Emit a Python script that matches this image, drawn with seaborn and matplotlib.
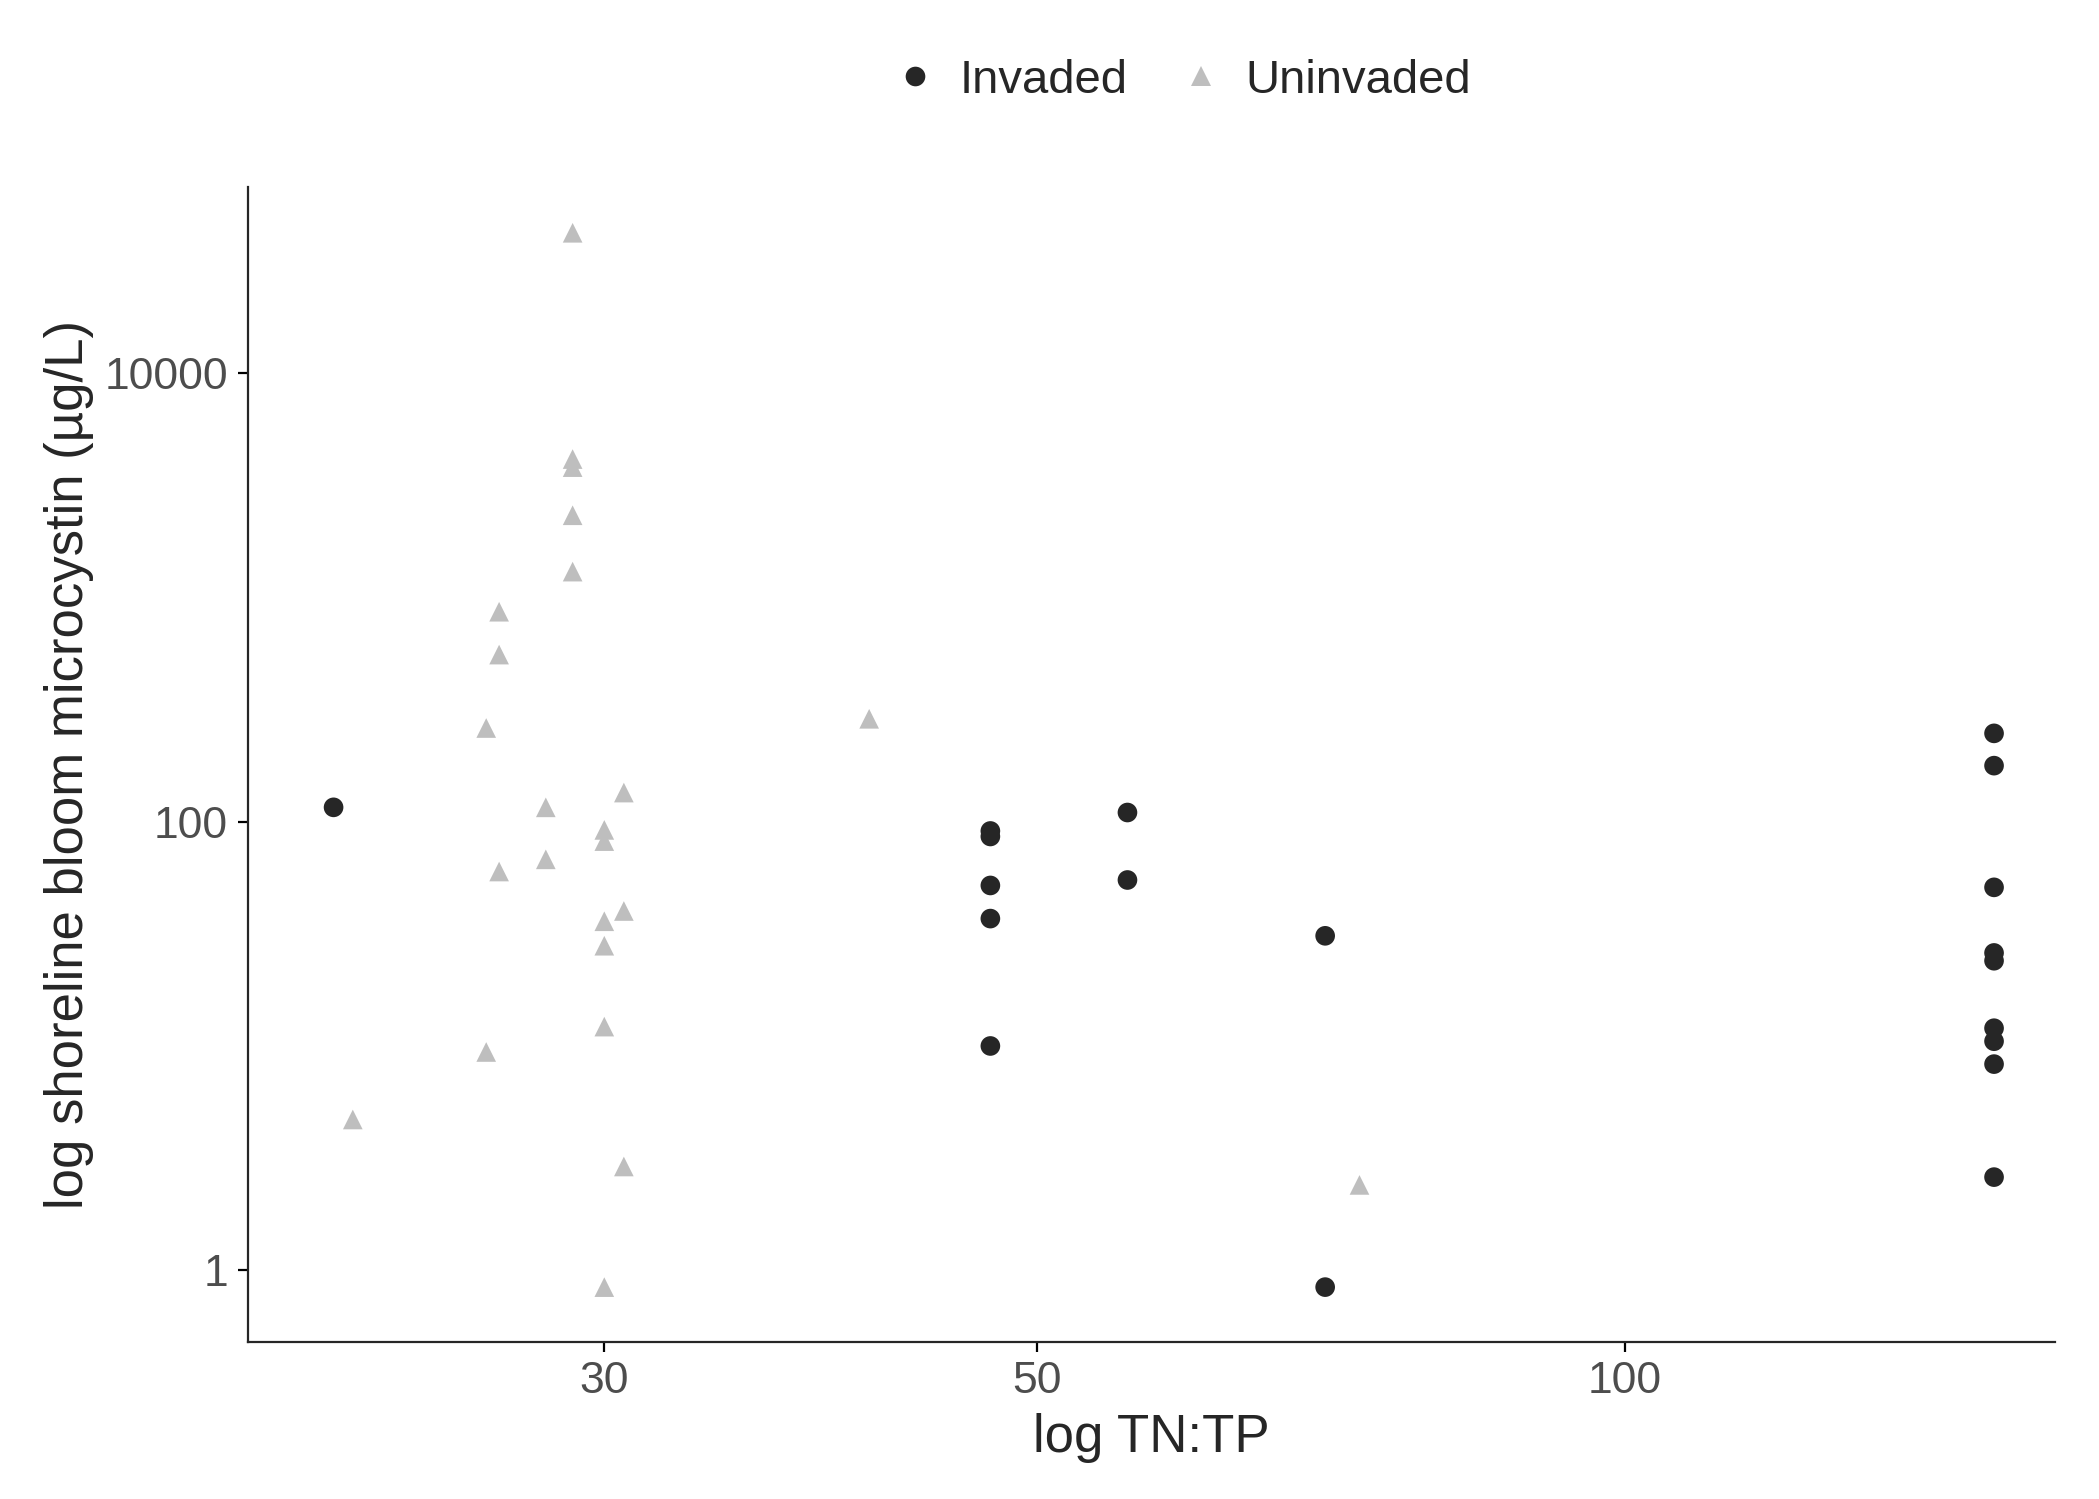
import numpy as np
import pandas as pd
import matplotlib
matplotlib.use("Agg")
import matplotlib.pyplot as plt
import seaborn as sns

# Values
inv_tntp = [21.8, 47.3, 47.3, 47.3, 47.3, 47.3, 55.6, 55.6, 70.2, 70.2,
            154.5, 154.5, 154.5, 154.5, 154.5, 154.5, 154.5, 154.5, 154.5]
inv_mc = [116, 86, 91, 52, 37, 10, 110, 55, 31, 0.84,
          248, 178, 51, 26, 24, 12, 10.5, 8.3, 2.6]
uninv_tntp = [22.3, 26.1, 26.1, 26.5, 26.5, 26.5, 28.0, 28.0, 28.9, 28.9, 28.9, 28.9, 28.9,
              30, 30, 30, 30, 30, 30, 30.7, 30.7, 30.7, 41.0, 73.1]
uninv_mc = [4.7, 262, 9.4, 865, 557, 60, 116, 68, 42400, 4150, 3820, 2330, 1306,
            92, 82, 36, 28, 12.2, 0.84, 135, 40, 2.9, 288, 2.4]

df = pd.DataFrame({
    "tntp": inv_tntp + uninv_tntp,
    "mc": inv_mc + uninv_mc,
    "status": ["Invaded"] * len(inv_tntp) + ["Uninvaded"] * len(uninv_tntp),
})

sns.set_style("ticks")
plt.rcParams["font.family"] = ["Liberation Sans", "DejaVu Sans"]

fig = plt.figure(figsize=(10.495, 7.495), dpi=200)
ax = fig.add_axes([0.118, 0.105, 0.861, 0.770])
sns.scatterplot(data=df, x="tntp", y="mc", hue="status", style="status",
                palette={"Invaded": "#262626", "Uninvaded": "#BEBEBE"},
                markers={"Invaded": "o", "Uninvaded": "^"},
                s=50, edgecolor="none", ax=ax)
ax.set_xscale("log")
ax.set_yscale("log")
ax.set_xlim(19.7, 166)
ax.set_ylim(0.48, 67600)
ax.set_xticks([30, 50, 100])
ax.set_xticklabels(["30", "50", "100"])
ax.set_yticks([1, 100, 10000])
ax.set_yticklabels(["1", "100", "10000"])
ax.minorticks_off()
ax.tick_params(axis="both", labelsize=16, colors="black", labelcolor="#4D4D4D")
for s in ["top", "right"]:
    ax.spines[s].set_visible(False)
ax.set_xlabel("log TN:TP", fontsize=19)
ax.set_ylabel("log shoreline bloom microcystin (µg/L)", fontsize=19)

handles, labels = ax.get_legend_handles_labels()
ax.legend_.remove()
fig.legend(handles, labels, loc="center", bbox_to_anchor=(0.56, 0.946), ncol=2,
           frameon=False, fontsize=17, handletextpad=0.2, columnspacing=0.8,
           handlelength=1.5)
fig.savefig("out.png", dpi=200)
